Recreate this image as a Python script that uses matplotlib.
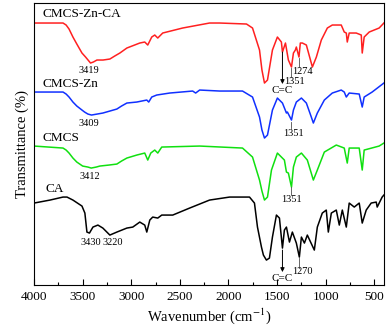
import matplotlib
matplotlib.use("Agg")
import matplotlib.pyplot as plt
from matplotlib.ticker import MultipleLocator

plt.rcParams['font.family'] = ['Liberation Serif', 'DejaVu Serif']
plt.rcParams['mathtext.fontset'] = 'stix'

# ---- data (wavenumber cm-1, offset transmittance) ----
red_w = [4000, 3702, 3670, 3640, 3600, 3560, 3507, 3470, 3419, 3390, 3353, 3290, 3220, 3170, 3117,
         3045, 2912, 2861, 2830, 2789, 2758, 2727,
         2676, 2471, 2194, 2091, 1814, 1752, 1680, 1655, 1629, 1598, 1547, 1496, 1455, 1444, 1413, 1383,
         1351, 1331, 1311, 1301, 1274, 1260, 1239, 1198, 1136, 1095, 1044, 982, 931, 839, 808, 787,
         777, 757, 685, 633, 623, 603, 551, 449, 400]
red_t = [262, 262, 260, 256, 248, 241, 232, 228, 222, 223, 225, 225, 226, 229, 232,
         237, 242, 243, 240, 248, 250, 247,
         252, 257, 262, 262, 261, 257, 235, 215, 202, 205, 235, 248, 243, 233, 242, 225,
         218, 232, 235, 238, 228, 242, 242, 240, 218, 228, 245, 257, 260, 260, 253, 252,
         243, 252, 252, 250, 232, 248, 253, 257, 262]

blue_w = [4000, 3702, 3670, 3640, 3600, 3560, 3507, 3480, 3446, 3409, 3350, 3292, 3220, 3148, 3100,
          3045, 2943, 2840, 2820, 2789, 2738, 2604,
          2368, 2337, 2296, 2091, 1855, 1752, 1680, 1655, 1629, 1598, 1547, 1496, 1444, 1403, 1393, 1351,
          1331, 1301, 1249, 1198, 1147, 1126, 1085, 1013, 931, 839, 808, 787, 757, 654, 623, 603,
          521, 400]
blue_t = [193, 193, 191, 188, 183, 179, 175, 173, 171, 170, 171, 172, 174, 176, 179,
          182, 183, 185, 183, 188, 190, 192,
          194, 192, 195, 194, 194, 188, 168, 155, 147, 150, 175, 187, 182, 172, 173, 165,
          175, 183, 187, 182, 168, 162, 172, 185, 192, 195, 193, 188, 192, 191, 178, 188,
          193, 202]

green_w = [4000, 3702, 3670, 3640, 3600, 3560, 3500, 3446, 3412, 3360, 3323, 3230, 3148, 3100, 3045,
           2943, 2861, 2830, 2799, 2758, 2727, 2686,
           2296, 1855, 1752, 1680, 1655, 1629, 1598, 1557, 1496, 1424, 1403, 1383, 1351, 1331, 1301, 1249,
           1188, 1126, 1085, 1013, 890, 808, 777, 757, 654, 623, 603, 449, 400]
green_t = [139, 137, 135, 132, 127, 123, 119, 118, 117, 118, 119, 120, 121, 124, 127,
           130, 132, 125, 132, 135, 132, 138,
           139, 137, 128, 105, 94, 85, 88, 115, 132, 125, 113, 112, 98, 118, 128, 132,
           125, 105, 115, 133, 140, 137, 122, 137, 137, 115, 135, 139, 142]

black_w = [4000, 3836, 3702, 3661, 3600, 3507, 3477, 3456, 3430, 3394, 3343, 3292, 3220, 3148, 3045,
           2984, 2912, 2861, 2840, 2809, 2779, 2727, 2686, 2573, 2399, 2194, 1988, 1783, 1732, 1701,
           1660, 1640, 1609, 1578, 1547, 1506, 1475, 1444, 1424, 1403, 1372, 1342, 1301, 1270, 1249, 1218,
           1188, 1116, 1085, 1034, 993, 972, 941, 890, 859, 828, 787, 757, 705, 654, 623,
           582, 531, 479, 469, 418, 400]
black_t = [82, 85, 88, 88, 85, 79, 72, 53, 52, 58, 60, 57, 50, 53, 57,
           58, 63, 60, 53, 65, 68, 67, 70, 70, 77, 85, 88, 88, 82, 58,
           38, 30, 25, 27, 48, 70, 67, 37, 55, 58, 43, 53, 42, 28, 48, 42,
           50, 35, 58, 72, 75, 53, 72, 75, 60, 75, 58, 82, 78, 82, 62,
           75, 82, 83, 78, 88, 90]

series_names = ['CMCS-Zn-CA', 'CMCS-Zn', 'CMCS', 'CA']
series_colors = ['#ff2020', '#1030ff', '#10e010', '#000000']

fig = plt.figure(figsize=(3.87, 3.35), dpi=100)
ax = fig.add_axes([0.088, 0.149, 0.904, 0.842])

for w, t, c in zip([red_w, blue_w, green_w, black_w], [red_t, blue_t, green_t, black_t], series_colors):
    ax.plot(w, t, color=c, lw=1.1, solid_joinstyle='round')

ax.set_xlim(4000, 400)
ax.set_ylim(0, 282)
ax.xaxis.set_major_locator(MultipleLocator(500))
ax.xaxis.set_minor_locator(MultipleLocator(250))
ax.tick_params(axis='x', which='major', direction='in', length=4, width=0.8, labelsize=9.5, pad=4)
ax.tick_params(axis='x', which='minor', direction='in', length=2.5, width=0.8)
ax.set_yticks([])
for s in ax.spines.values():
    s.set_linewidth(0.8)

ax.set_xlabel('Wavenumber (cm$^{-1}$)', fontsize=10.5, labelpad=3)
ax.set_ylabel('Transmittance (%)', fontsize=10.5, labelpad=4)

# curve labels
label_pos = [(3918, 271), (3918, 201), (3908, 147), (3887, 96)]
for name, (x, y) in zip(series_names, label_pos):
    ax.text(x, y, name, fontsize=9.5, ha='left', va='center')

fs = 7.5
# peak labels
for txt, x, y in [('3419', 3435, 215), ('3409', 3435, 162), ('3412', 3425, 109),
                  ('3430', 3415, 43), ('3220', 3189, 43)]:
    ax.text(x, y, txt, fontsize=fs, ha='center', va='center')

# small marker lines with labels
for txt, lx, ly, wx, y0, y1 in [('1274', 1239, 214, 1270, 227, 218),
                                 ('1351', 1321, 204, 1351, 217, 208),
                                 ('1351', 1331, 152, 1351, 163, 157),
                                 ('1351', 1352, 86, 1351, 98, 90),
                                 ('1270', 1239, 14, 1270, 27, 17)]:
    ax.plot([wx, wx], [y0, y1], color='0.3', lw=0.6)
    ax.text(lx, ly, txt, fontsize=fs, ha='center', va='center')

# C=C arrows
for y0, y1, ty in [(233, 201, 195), (35, 13, 7)]:
    ax.annotate('', xy=(1444, y1), xytext=(1444, y0),
                arrowprops=dict(arrowstyle='-|>', color='black', lw=0.7,
                                mutation_scale=6, shrinkA=0, shrinkB=0))
    ax.text(1444, ty, 'C=C', fontsize=8, ha='center', va='center')

fig.savefig('out.png', dpi=100)
